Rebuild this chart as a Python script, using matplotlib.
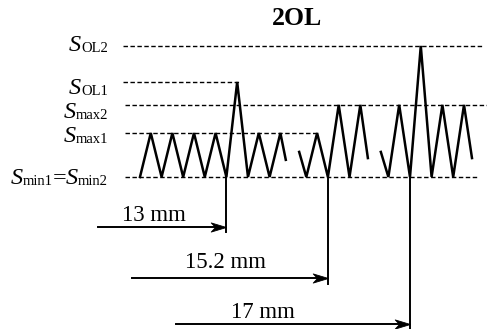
import matplotlib.pyplot as plt
from matplotlib.path import Path

plt.rcParams['font.family'] = 'Liberation Serif'

# stress levels (relative to S_max1, S_min = 0)
S_min = 0.0
S_max1 = 1.0
S_max2 = 1.64
S_OL1 = 2.16
S_OL2 = 2.98

# loading blocks: cycle position and stress
seg1_c = [0, 0.5, 1, 1.5, 2, 2.5, 3, 3.5, 4, 4.5, 5, 5.5, 6, 6.5, 6.75]
seg1_s = [S_min, S_max1, S_min, S_max1, S_min, S_max1, S_min, S_max1, S_min,
          S_OL1, S_min, S_max1, S_min, S_max1, 0.39]
seg2_c = [7.37, 7.7, 8.2, 8.7, 9.2, 9.7, 10.2, 10.55]
seg2_s = [0.57, S_min, S_max1, S_min, S_max2, S_min, S_max2, 0.43]
seg3_c = [11.15, 11.5, 12, 12.5, 13, 13.5, 14, 14.5, 15, 15.37]
seg3_s = [0.57, S_min, S_max2, S_min, S_OL2, S_min, S_max2, S_min, S_max2, 0.43]

# overloads: crack length, cycle where applied, arrow start, arrow level, drop
ol_labels = ['13 mm', '15.2 mm', '17 mm']
ol_cycle = [4, 8.7, 12.5]
arrow_start = [-1.94, -0.37, 1.67]
arrow_level = [-1.136, -2.295, -3.34]
drop_end = [-1.25, -2.43, -3.46]
label_x = [0.65, 3.94, 5.69]
label_y = [-0.886, -1.95, -3.09]

# reference lines: level, start, end
ref_levels = [S_OL2, S_OL1, S_max2, S_max1, S_min]
ref_start = [-0.79, -0.79, -0.69, -0.69, -0.69]
ref_end = [15.88, 4.6, 16.1, 8.2, 15.65]
# level labels as (text, is_subscript) pieces, with their baselines
ref_pieces = [
    [('S', False), ('OL2', True)],
    [('S', False), ('OL1', True)],
    [('S', False), ('max2', True)],
    [('S', False), ('max1', True)],
    [('S', False), ('min1', True), ('=', False), ('S', False), ('min2', True)],
]
ref_baseline = [2.864, 1.886, 1.341, 0.795, -0.159]
label_right = -1.48

# barbed arrowhead with its tip at the origin, pointing right
head = Path([(0, 0), (-1, 0.3), (-0.72, 0), (-1, -0.3), (0, 0)],
            [Path.MOVETO, Path.LINETO, Path.LINETO, Path.LINETO, Path.CLOSEPOLY])

fig = plt.figure(figsize=(4.87, 3.29), dpi=100)
ax = fig.add_axes([0, 0, 1, 1])
ax.set_xlim(-6.48, 16.065)
ax.set_ylim(-3.4545, 4.0227)
ax.axis('off')

for lev, x0, x1 in zip(ref_levels, ref_start, ref_end):
    ax.plot([x0, x1], [lev, lev], color='black', lw=1.0, dashes=(3.2, 1.8))

# build each label piece by piece, then shift it so it ends at label_right
renderer = fig.canvas.get_renderer()
for pieces, base in zip(ref_pieces, ref_baseline):
    arts = []
    for txt, sub in pieces:
        style = 'normal' if (sub or txt == '=') else 'italic'
        size = 10.5 if sub else 17.5
        yb = base - 0.02 if sub else base
        if not arts:
            t = ax.text(0, yb, txt, fontsize=size, style=style,
                        ha='left', va='baseline')
        else:
            t = ax.annotate(txt, xy=(1, yb), xycoords=(arts[-1], 'data'),
                            fontsize=size, style=style, ha='left', va='baseline')
        arts.append(t)
    fig.canvas.draw()
    right = ax.transData.inverted().transform(
        (arts[-1].get_window_extent(renderer).x1, 0))[0]
    arts[0].set_x(label_right - right)

for c, s in [(seg1_c, seg1_s), (seg2_c, seg2_s), (seg3_c, seg3_s)]:
    ax.plot(c, s, color='black', lw=1.8, solid_joinstyle='miter')

for lab, c, a0, ay, d, lx, ly in zip(ol_labels, ol_cycle, arrow_start,
                                     arrow_level, drop_end, label_x, label_y):
    ax.plot([c, c], [S_min, d], color='black', lw=1.4)
    ax.plot([a0, c - 0.3], [ay, ay], color='black', lw=1.4)
    ax.plot([c], [ay], marker=head, markersize=22, color='black',
            markeredgewidth=0.6, linestyle='none')
    ax.text(lx, ly, lab, ha='center', va='center', fontsize=16.5)

ax.text(7.27, 3.61, '2OL', ha='center', va='center', fontsize=18.5, fontweight='bold')

fig.savefig('out.png', dpi=100)
